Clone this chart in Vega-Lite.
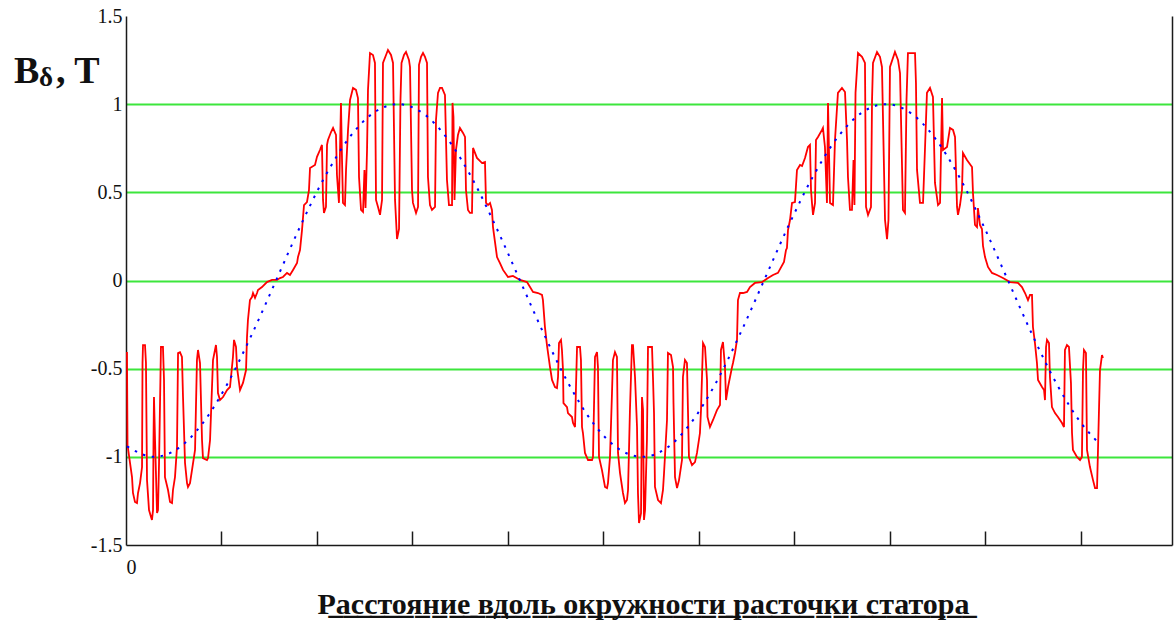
{
  "$schema": "https://vega.github.io/schema/vega-lite/v6.json",
  "width": 1046,
  "height": 529,
  "autosize": {"type": "none"},
  "padding": {"left": 126, "top": 16, "right": 4, "bottom": 77},
  "background": "white",
  "view": {"stroke": null},
  "config": {"font": "Liberation Serif"},
  "datasets": {
    "airgap": [
      {"s":0.010,"B":-0.406},{"s":0.016,"B":-0.933},{"s":0.063,"B":-1.115},{"s":0.073,"B":-1.205},{"s":0.094,"B":-1.256},{"s":0.115,"B":-1.262},{"s":0.126,"B":-1.205},{"s":0.147,"B":-1.149},{"s":0.168,"B":-1.058},{"s":0.173,"B":-0.468},{"s":0.178,"B":-0.366},{"s":0.199,"B":-0.366},{"s":0.209,"B":-0.468},{"s":0.220,"B":-1.132},{"s":0.241,"B":-1.302},{"s":0.262,"B":-1.341},{"s":0.272,"B":-1.358},{"s":0.283,"B":-1.302},{"s":0.288,"B":-0.905},{"s":0.293,"B":-0.661},{"s":0.304,"B":-0.905},{"s":0.325,"B":-1.319},{"s":0.335,"B":-1.302},{"s":0.346,"B":-1.035},{"s":0.366,"B":-0.377},{"s":0.387,"B":-0.377},{"s":0.398,"B":-0.564},{"s":0.408,"B":-1.115},{"s":0.440,"B":-1.188},{"s":0.461,"B":-1.256},{"s":0.482,"B":-1.262},{"s":0.492,"B":-1.188},{"s":0.513,"B":-1.115},{"s":0.534,"B":-0.944},{"s":0.545,"B":-0.411},{"s":0.565,"B":-0.406},{"s":0.586,"B":-0.434},{"s":0.597,"B":-0.661},{"s":0.618,"B":-1.035},{"s":0.639,"B":-1.149},{"s":0.649,"B":-1.171},{"s":0.670,"B":-1.149},{"s":0.691,"B":-1.075},{"s":0.723,"B":-0.961},{"s":0.743,"B":-0.451},{"s":0.754,"B":-0.394},{"s":0.775,"B":-0.468},{"s":0.796,"B":-0.905},{"s":0.806,"B":-1.007},{"s":0.848,"B":-1.018},{"s":0.859,"B":-1.007},{"s":0.880,"B":-0.905},{"s":0.911,"B":-0.451},{"s":0.942,"B":-0.366},{"s":0.953,"B":-0.434},{"s":0.963,"B":-0.638},{"s":0.984,"B":-0.678},{"s":1.016,"B":-0.661},{"s":1.058,"B":-0.621},{"s":1.089,"B":-0.604},{"s":1.120,"B":-0.434},{"s":1.131,"B":-0.337},{"s":1.152,"B":-0.377},{"s":1.162,"B":-0.491},{"s":1.194,"B":-0.621},{"s":1.225,"B":-0.581},{"s":1.257,"B":-0.508},{"s":1.267,"B":-0.320},{"s":1.277,"B":-0.224},{"s":1.298,"B":-0.111},{"s":1.319,"B":-0.094},{"s":1.330,"B":-0.071},{"s":1.351,"B":-0.099},{"s":1.372,"B":-0.071},{"s":1.382,"B":-0.054},{"s":1.424,"B":-0.037},{"s":1.476,"B":-0.009},{"s":1.529,"B":0.003},{"s":1.581,"B":0.003},{"s":1.613,"B":0.014},{"s":1.644,"B":0.020},{"s":1.686,"B":0.043},{"s":1.717,"B":0.031},{"s":1.749,"B":0.060},{"s":1.791,"B":0.099},{"s":1.801,"B":0.133},{"s":1.822,"B":0.173},{"s":1.843,"B":0.286},
      {"s":1.864,"B":0.428},{"s":1.895,"B":0.445},{"s":1.916,"B":0.513},{"s":1.927,"B":0.638},{"s":1.979,"B":0.655},{"s":2.000,"B":0.701},{"s":2.031,"B":0.740},{"s":2.052,"B":0.769},{"s":2.063,"B":0.457},{"s":2.073,"B":0.383},{"s":2.094,"B":0.417},{"s":2.105,"B":0.769},{"s":2.115,"B":0.797},{"s":2.147,"B":0.842},{"s":2.168,"B":0.865},{"s":2.199,"B":0.825},{"s":2.209,"B":0.598},{"s":2.230,"B":0.440},{"s":2.241,"B":0.740},{"s":2.251,"B":1.007},{"s":2.262,"B":0.683},{"s":2.272,"B":0.440},{"s":2.293,"B":0.428},{"s":2.304,"B":0.627},{"s":2.325,"B":0.854},{"s":2.346,"B":1.024},{"s":2.377,"B":1.092},{"s":2.408,"B":1.081},{"s":2.429,"B":1.035},{"s":2.440,"B":0.587},{"s":2.461,"B":0.400},{"s":2.482,"B":0.389},{"s":2.497,"B":0.627},{"s":2.508,"B":0.411},{"s":2.524,"B":0.740},{"s":2.534,"B":1.081},{"s":2.555,"B":1.290},{"s":2.586,"B":1.279},{"s":2.607,"B":1.234},{"s":2.618,"B":0.457},{"s":2.639,"B":0.417},{"s":2.660,"B":0.372},{"s":2.681,"B":0.457},{"s":2.691,"B":1.234},{"s":2.723,"B":1.279},{"s":2.743,"B":1.307},{"s":2.775,"B":1.279},{"s":2.796,"B":1.234},{"s":2.817,"B":0.457},{"s":2.838,"B":0.235},{"s":2.859,"B":0.292},{"s":2.874,"B":1.024},{"s":2.885,"B":1.234},{"s":2.911,"B":1.279},{"s":2.932,"B":1.296},{"s":2.963,"B":1.251},{"s":2.974,"B":1.211},{"s":2.995,"B":0.513},{"s":3.005,"B":0.440},{"s":3.037,"B":0.383},{"s":3.058,"B":0.417},{"s":3.068,"B":1.223},{"s":3.089,"B":1.268},{"s":3.110,"B":1.290},{"s":3.131,"B":1.268},{"s":3.152,"B":1.234},{"s":3.162,"B":0.587},{"s":3.183,"B":0.428},{"s":3.204,"B":0.400},{"s":3.236,"B":0.417},{"s":3.246,"B":0.910},{"s":3.267,"B":1.064},{"s":3.288,"B":1.092},{"s":3.309,"B":1.092},{"s":3.340,"B":1.052},{"s":3.361,"B":0.570},{"s":3.382,"B":0.428},{"s":3.414,"B":0.428},{"s":3.419,"B":1.007},{"s":3.429,"B":0.927},{"s":3.440,"B":0.457},{"s":3.455,"B":0.740},{"s":3.476,"B":0.825},{"s":3.497,"B":0.865},{"s":3.529,"B":0.837},{"s":3.550,"B":0.814},{"s":3.560,"B":0.513},{"s":3.581,"B":0.400},{"s":3.602,"B":0.383},{"s":3.623,"B":0.383},{"s":3.634,"B":0.752},{"s":3.675,"B":0.695},{"s":3.728,"B":0.666},{"s":3.759,"B":0.672},{"s":3.770,"B":0.440},{"s":3.791,"B":0.428},{"s":3.812,"B":0.440},{"s":3.832,"B":0.400},{"s":3.843,"B":0.303},{"s":3.864,"B":0.218},{"s":3.885,"B":0.133},{"s":3.916,"B":0.099},{"s":3.948,"B":0.060},{"s":4.000,"B":0.020},{"s":4.052,"B":0.026},{"s":4.126,"B":0.003},{"s":4.199,"B":-0.009},{"s":4.262,"B":-0.065},{"s":4.314,"B":-0.071},{"s":4.356,"B":-0.082},{"s":4.366,"B":-0.111},
      {"s":4.387,"B":-0.264},{"s":4.408,"B":-0.366},{"s":4.440,"B":-0.491},{"s":4.461,"B":-0.564},{"s":4.492,"B":-0.604},{"s":4.513,"B":-0.610},{"s":4.524,"B":-0.547},{"s":4.534,"B":-0.355},{"s":4.555,"B":-0.337},{"s":4.565,"B":-0.394},{"s":4.576,"B":-0.508},{"s":4.581,"B":-0.695},{"s":4.618,"B":-0.718},{"s":4.628,"B":-0.752},{"s":4.670,"B":-0.774},{"s":4.681,"B":-0.808},{"s":4.702,"B":-0.831},{"s":4.712,"B":-0.604},{"s":4.723,"B":-0.377},{"s":4.754,"B":-0.377},{"s":4.764,"B":-0.451},{"s":4.775,"B":-0.831},{"s":4.785,"B":-0.865},{"s":4.806,"B":-0.978},{"s":4.838,"B":-1.018},{"s":4.880,"B":-1.018},{"s":4.890,"B":-1.001},{"s":4.911,"B":-0.434},{"s":4.932,"B":-0.406},{"s":4.942,"B":-0.491},{"s":4.953,"B":-1.001},{"s":4.984,"B":-1.075},{"s":5.016,"B":-1.171},{"s":5.037,"B":-1.177},{"s":5.047,"B":-1.149},{"s":5.068,"B":-1.001},{"s":5.089,"B":-0.638},{"s":5.099,"B":-0.451},{"s":5.120,"B":-0.406},{"s":5.141,"B":-0.434},{"s":5.147,"B":-0.735},{"s":5.152,"B":-0.978},{"s":5.173,"B":-1.092},{"s":5.204,"B":-1.205},{"s":5.225,"B":-1.262},{"s":5.246,"B":-1.245},{"s":5.257,"B":-1.188},{"s":5.277,"B":-0.735},{"s":5.298,"B":-0.366},{"s":5.309,"B":-0.366},{"s":5.330,"B":-0.547},{"s":5.351,"B":-0.831},{"s":5.361,"B":-1.205},{"s":5.372,"B":-1.375},{"s":5.393,"B":-1.319},{"s":5.403,"B":-0.661},{"s":5.414,"B":-0.735},{"s":5.424,"B":-1.358},{"s":5.435,"B":-1.302},{"s":5.455,"B":-0.905},{"s":5.466,"B":-0.377},{"s":5.508,"B":-0.377},{"s":5.518,"B":-0.547},{"s":5.529,"B":-0.752},{"s":5.539,"B":-1.171},{"s":5.571,"B":-1.245},{"s":5.602,"B":-1.262},{"s":5.623,"B":-1.188},{"s":5.634,"B":-1.092},{"s":5.665,"B":-0.791},{"s":5.675,"B":-0.411},{"s":5.707,"B":-0.423},{"s":5.728,"B":-0.491},{"s":5.733,"B":-0.695},{"s":5.749,"B":-1.115},{"s":5.770,"B":-1.177},{"s":5.791,"B":-1.132},{"s":5.822,"B":-1.018},{"s":5.832,"B":-0.547},{"s":5.853,"B":-0.451},{"s":5.874,"B":-0.468},{"s":5.895,"B":-1.001},{"s":5.927,"B":-1.047},{"s":5.958,"B":-1.030},{"s":5.979,"B":-0.978},{"s":6.010,"B":-0.865},{"s":6.021,"B":-0.735},{"s":6.042,"B":-0.355},{"s":6.063,"B":-0.377},{"s":6.084,"B":-0.564},{"s":6.089,"B":-0.774},{"s":6.115,"B":-0.831},{"s":6.147,"B":-0.791},{"s":6.188,"B":-0.735},{"s":6.220,"B":-0.706},{"s":6.230,"B":-0.394},{"s":6.251,"B":-0.349},{"s":6.272,"B":-0.491},{"s":6.283,"B":-0.678},{"s":6.304,"B":-0.604},{"s":6.325,"B":-0.547},{"s":6.346,"B":-0.491},{"s":6.356,"B":-0.468},{"s":6.377,"B":-0.411},{"s":6.398,"B":-0.337},{"s":6.408,"B":-0.111},{"s":6.429,"B":-0.071},{"s":6.461,"B":-0.071},{"s":6.503,"B":-0.065},{"s":6.534,"B":-0.037},{"s":6.586,"B":-0.014},{"s":6.660,"B":-0.009},{"s":6.723,"B":0.014},{"s":6.775,"B":0.031},{"s":6.827,"B":0.043},{"s":6.890,"B":0.105},{"s":6.911,"B":0.173},
      {"s":6.921,"B":0.184},{"s":6.932,"B":0.286},{"s":6.953,"B":0.343},{"s":6.974,"B":0.440},{"s":7.005,"B":0.445},{"s":7.026,"B":0.627},{"s":7.058,"B":0.655},{"s":7.079,"B":0.649},{"s":7.110,"B":0.695},{"s":7.141,"B":0.757},{"s":7.162,"B":0.769},{"s":7.173,"B":0.513},{"s":7.183,"B":0.440},{"s":7.194,"B":0.372},{"s":7.215,"B":0.440},{"s":7.225,"B":0.797},{"s":7.246,"B":0.814},{"s":7.288,"B":0.854},{"s":7.298,"B":0.865},{"s":7.319,"B":0.757},{"s":7.340,"B":0.440},{"s":7.351,"B":1.007},{"s":7.361,"B":0.740},{"s":7.372,"B":0.440},{"s":7.403,"B":0.428},{"s":7.424,"B":0.797},{"s":7.455,"B":1.064},{"s":7.497,"B":1.092},{"s":7.529,"B":1.069},{"s":7.550,"B":0.797},{"s":7.560,"B":0.587},{"s":7.581,"B":0.400},{"s":7.602,"B":0.400},{"s":7.618,"B":0.683},{"s":7.628,"B":0.428},{"s":7.639,"B":1.064},{"s":7.665,"B":1.290},{"s":7.707,"B":1.268},{"s":7.738,"B":1.234},{"s":7.749,"B":0.417},{"s":7.770,"B":0.372},{"s":7.801,"B":0.417},{"s":7.812,"B":1.024},{"s":7.822,"B":1.234},{"s":7.864,"B":1.296},{"s":7.895,"B":1.268},{"s":7.916,"B":1.211},{"s":7.948,"B":0.343},{"s":7.969,"B":0.235},{"s":7.984,"B":0.343},{"s":8.000,"B":1.211},{"s":8.052,"B":1.296},{"s":8.084,"B":1.251},{"s":8.105,"B":1.177},{"s":8.136,"B":0.400},{"s":8.157,"B":0.383},{"s":8.173,"B":1.024},{"s":8.188,"B":1.290},{"s":8.262,"B":1.290},{"s":8.272,"B":1.120},{"s":8.283,"B":0.627},{"s":8.314,"B":0.440},{"s":8.346,"B":0.440},{"s":8.366,"B":0.740},{"s":8.387,"B":1.064},{"s":8.419,"B":1.092},{"s":8.450,"B":1.041},{"s":8.471,"B":0.553},{"s":8.503,"B":0.428},{"s":8.524,"B":0.440},{"s":8.545,"B":1.035},{"s":8.555,"B":0.740},{"s":8.597,"B":0.757},{"s":8.628,"B":0.865},{"s":8.660,"B":0.854},{"s":8.681,"B":0.814},{"s":8.702,"B":0.417},{"s":8.712,"B":0.372},{"s":8.733,"B":0.428},{"s":8.754,"B":0.513},{"s":8.764,"B":0.723},{"s":8.806,"B":0.683},{"s":8.859,"B":0.644},{"s":8.869,"B":0.496},{"s":8.890,"B":0.315},{"s":8.911,"B":0.303},{"s":8.921,"B":0.411},{"s":8.942,"B":0.315},{"s":8.963,"B":0.292},{"s":8.974,"B":0.196},{"s":8.995,"B":0.133},{"s":9.026,"B":0.077},{"s":9.068,"B":0.043},{"s":9.120,"B":0.031},{"s":9.183,"B":0.014},{"s":9.257,"B":-0.009},{"s":9.340,"B":-0.014},{"s":9.382,"B":-0.037},{"s":9.414,"B":-0.071},{"s":9.445,"B":-0.111},{"s":9.466,"B":-0.082},{"s":9.487,"B":-0.082},
      {"s":9.497,"B":-0.264},{"s":9.518,"B":-0.355},{"s":9.539,"B":-0.468},{"s":9.550,"B":-0.564},{"s":9.592,"B":-0.604},{"s":9.613,"B":-0.621},{"s":9.623,"B":-0.678},{"s":9.634,"B":-0.377},{"s":9.644,"B":-0.337},{"s":9.665,"B":-0.355},{"s":9.675,"B":-0.547},{"s":9.696,"B":-0.718},{"s":9.728,"B":-0.752},{"s":9.759,"B":-0.774},{"s":9.801,"B":-0.808},{"s":9.822,"B":-0.831},{"s":9.832,"B":-0.394},{"s":9.853,"B":-0.366},{"s":9.874,"B":-0.377},{"s":9.895,"B":-0.581},{"s":9.906,"B":-0.865},{"s":9.916,"B":-0.961},{"s":9.958,"B":-1.001},{"s":9.990,"B":-1.018},{"s":10.010,"B":-1.001},{"s":10.021,"B":-0.508},{"s":10.031,"B":-0.394},{"s":10.052,"B":-0.411},{"s":10.063,"B":-0.961},{"s":10.094,"B":-1.058},{"s":10.126,"B":-1.132},{"s":10.147,"B":-1.177},{"s":10.168,"B":-1.177},{"s":10.178,"B":-0.961},{"s":10.199,"B":-0.508},{"s":10.220,"B":-0.423},{"s":10.230,"B":-0.440}
    ],
    "fundamental": [
      {"s":0.010,"B":-0.940},{"s":0.293,"B":-1.0},{"s":0.549,"B":-0.951},{"s":0.804,"B":-0.809},{"s":1.060,"B":-0.588},{"s":1.315,"B":-0.309},{"s":1.571,"B":0.0},{"s":1.826,"B":0.309},{"s":2.082,"B":0.588},{"s":2.337,"B":0.809},{"s":2.593,"B":0.951},{"s":2.848,"B":1.0},{"s":3.104,"B":0.951},{"s":3.359,"B":0.809},{"s":3.615,"B":0.588},{"s":3.870,"B":0.309},{"s":4.126,"B":0.0},{"s":4.381,"B":-0.309},{"s":4.637,"B":-0.588},{"s":4.892,"B":-0.809},{"s":5.148,"B":-0.951},{"s":5.403,"B":-1.0},{"s":5.659,"B":-0.951},{"s":5.914,"B":-0.809},{"s":6.170,"B":-0.588},{"s":6.425,"B":-0.309},{"s":6.681,"B":0.0},{"s":6.936,"B":0.309},{"s":7.192,"B":0.588},{"s":7.447,"B":0.809},{"s":7.703,"B":0.951},{"s":7.958,"B":1.0},{"s":8.214,"B":0.951},{"s":8.469,"B":0.809},{"s":8.725,"B":0.588},{"s":8.980,"B":0.309},{"s":9.236,"B":0.0},{"s":9.491,"B":-0.309},{"s":9.747,"B":-0.588},{"s":10.002,"B":-0.809},{"s":10.168,"B":-0.912}
    ]
  },
  "resolve": {"axis": {"x": "independent", "y": "independent"}},
  "layer": [
    {
      "data": {"name": "airgap"},
      "mark": {"type": "line", "color": "#ff0000", "strokeWidth": 1.8},
      "encoding": {
        "x": {
          "field": "s", "type": "quantitative",
          "scale": {"domain": [0, 10.953], "nice": false, "zero": false},
          "axis": {
            "orient": "bottom",
            "values": [0, 1, 2, 3, 4, 5, 6, 7, 8, 9, 10],
            "grid": false,
            "ticks": false,
            "domainColor": "#1a1a1a", "domainWidth": 1.5,
            "labelExpr": "datum.value == 0 ? '0' : ''",
            "labelFont": "Liberation Serif", "labelFontSize": 20, "labelColor": "#111111",
            "labelAlign": "left", "labelBaseline": "top", "labelPadding": 12,
            "title": "Р\u0332а\u0332с\u0332с\u0332т\u0332о\u0332я\u0332н\u0332и\u0332е\u0332 \u0332в\u0332д\u0332о\u0332л\u0332ь\u0332 \u0332о\u0332к\u0332р\u0332у\u0332ж\u0332н\u0332о\u0332с\u0332т\u0332и\u0332 \u0332р\u0332а\u0332с\u0332т\u0332о\u0332ч\u0332к\u0332и\u0332 \u0332с\u0332т\u0332а\u0332т\u0332о\u0332р\u0332а\u0332",
            "titleFont": "Liberation Serif", "titleFontSize": 30, "titleFontWeight": "bold",
            "titleColor": "#111111", "titleBaseline": "alphabetic", "titleAlign": "center",
            "titleX": 517, "titleY": 68
          }
        },
        "y": {
          "field": "B", "type": "quantitative",
          "scale": {"domain": [-1.5, 1.5], "nice": false, "zero": false},
          "axis": {
            "values": [-1.5, -1, -0.5, 0, 0.5, 1, 1.5],
            "labelExpr": "'' + datum.value",
            "ticks": false,
            "grid": true, "gridColor": "#3ce63c", "gridWidth": 2,
            "gridOpacity": {"condition": {"test": "abs(datum.value) > 1.2", "value": 0}, "value": 1},
            "domainColor": "#1a1a1a", "domainWidth": 1.5,
            "labelFont": "Liberation Serif", "labelFontSize": 20, "labelColor": "#111111",
            "labelPadding": 4,
            "title": null
          }
        }
      }
    },
    {
      "data": {"name": "fundamental"},
      "mark": {"type": "line", "color": "#0000ff", "strokeWidth": 2, "strokeDash": [2.5, 6.5], "interpolate": "monotone"},
      "encoding": {
        "x": {
          "field": "s", "type": "quantitative",
          "scale": {"domain": [0, 10.953], "nice": false, "zero": false},
          "axis": {"orient": "top", "offset": -529, "values": [1, 2, 3, 4, 5, 6, 7, 8, 9, 10], "labels": false, "domain": false, "grid": false, "ticks": true, "tickSize": 14, "tickColor": "#1a1a1a", "tickWidth": 1.5, "title": null}
        },
        "y": {
          "field": "B", "type": "quantitative",
          "scale": {"domain": [-1.5, 1.5], "nice": false, "zero": false},
          "axis": {"orient": "right", "labels": false, "ticks": false, "grid": false, "domainColor": "#1a1a1a", "domainWidth": 1.5, "title": null}
        }
      }
    },
    {
      "data": {"values": [{}]},
      "mark": {"type": "text", "text": "B", "font": "Liberation Serif", "fontSize": 38, "fontWeight": "bold", "align": "left", "baseline": "alphabetic", "color": "#111111"},
      "encoding": {
        "x": {"datum": -1.173, "type": "quantitative", "scale": {"domain": [0, 10.953], "nice": false, "zero": false}, "axis": null},
        "y": {"datum": 1.12, "type": "quantitative", "scale": {"domain": [-1.5, 1.5], "nice": false, "zero": false}, "axis": null}
      }
    },
    {
      "data": {"values": [{}]},
      "mark": {"type": "text", "text": "δ", "font": "Liberation Serif", "fontSize": 27, "fontWeight": "bold", "align": "left", "baseline": "alphabetic", "color": "#111111"},
      "encoding": {
        "x": {"datum": -0.911, "type": "quantitative", "scale": {"domain": [0, 10.953], "nice": false, "zero": false}, "axis": null},
        "y": {"datum": 1.103, "type": "quantitative", "scale": {"domain": [-1.5, 1.5], "nice": false, "zero": false}, "axis": null}
      }
    },
    {
      "data": {"values": [{}]},
      "mark": {"type": "text", "text": ", T", "font": "Liberation Serif", "fontSize": 38, "fontWeight": "bold", "align": "left", "baseline": "alphabetic", "color": "#111111"},
      "encoding": {
        "x": {"datum": -0.733, "type": "quantitative", "scale": {"domain": [0, 10.953], "nice": false, "zero": false}, "axis": null},
        "y": {"datum": 1.12, "type": "quantitative", "scale": {"domain": [-1.5, 1.5], "nice": false, "zero": false}, "axis": null}
      }
    }
  ]
}
